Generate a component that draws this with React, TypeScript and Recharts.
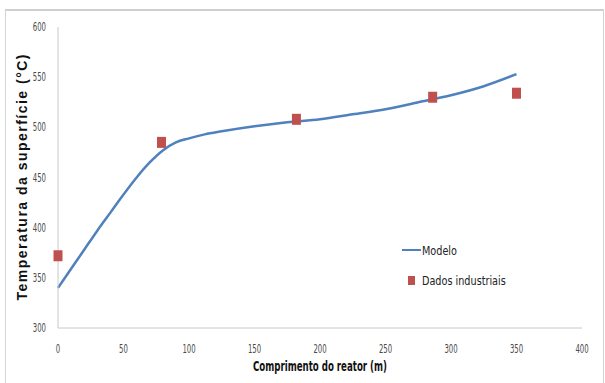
import {
  ComposedChart,
  Line,
  Scatter,
  XAxis,
  YAxis,
  Legend,
  Label,
} from 'recharts'

// Curva do modelo: comprimento (m) x temperatura (°C)
const modeloX = [0, 10, 20, 30, 40, 50, 60, 70, 80, 90, 100, 112, 125, 150, 175, 200, 225, 250, 275, 300, 325, 350]
const modeloY = [340, 359, 378, 397, 415, 433, 450, 465, 477, 485, 489, 493, 496, 501, 505, 508, 513, 518, 525, 532, 541, 553]

// Medições industriais
const dadosX = [0, 79, 182, 286, 350]
const dadosY = [372, 485, 508, 530, 534]

const xTicks = [0, 50, 100, 150, 200, 250, 300, 350, 400]
const yTicks = [300, 350, 400, 450, 500, 550, 600]

const modeloData = modeloX.map((x, i) => ({ x, y: modeloY[i] }))
const dadosData = dadosX.map((x, i) => ({ x, y: dadosY[i] }))

const BLUE = '#4F81BD'
const RED = '#C0504D'
const NARROW = '"DejaVu Sans Condensed", "Liberation Sans", sans-serif'

// rótulos estreitos, no estilo do Calibri
function NarrowTick(props: any) {
  const { x, y, payload, textAnchor } = props
  const s = String(payload.value)
  return (
    <text
      x={x}
      y={y}
      textAnchor={textAnchor}
      dominantBaseline="central"
      fontSize={12}
      fill="#4a4a4a"
      fontFamily={NARROW}
      textLength={s.length * 4.4}
      lengthAdjust="spacingAndGlyphs"
    >
      {s}
    </text>
  )
}

function SquareMarker(props: any) {
  const { cx, cy } = props
  return <rect x={cx - 4.5} y={cy - 5.5} width={9} height={11} fill={RED} />
}

const squeeze = { display: 'inline-block', transform: 'scaleX(0.86)', transformOrigin: 'left center', whiteSpace: 'nowrap' as const }

function LegendBox() {
  return (
    <div style={{ fontFamily: NARROW, fontSize: 12.5, color: '#222', textAlign: 'left' }}>
      <div style={{ display: 'flex', alignItems: 'center', height: 18 }}>
        <span style={{ display: 'inline-block', width: 19, height: 2.5, background: BLUE, marginRight: 1 }} />
        <span style={squeeze}>Modelo</span>
      </div>
      <div style={{ display: 'flex', alignItems: 'center', height: 18, marginTop: 12 }}>
        <span style={{ display: 'inline-block', width: 7, height: 9, background: RED, marginLeft: 6, marginRight: 7 }} />
        <span style={squeeze}>Dados industriais</span>
      </div>
    </div>
  )
}

export default function App() {
  return (
    <div style={{ position: 'absolute', left: 0, top: 0, width: 605, height: 383, background: '#fff' }}>
      <div
        style={{
          position: 'absolute',
          left: 5,
          top: 9,
          width: 597,
          height: 380,
          border: '1px solid #d4d4d4',
          borderTop: '2px solid #cfcfcf',
        }}
      />
      <ComposedChart
        width={605}
        height={383}
        margin={{ top: 27, right: 23, bottom: 25, left: 8 }}
        style={{ position: 'absolute', left: 0, top: 0 }}
      >
        <XAxis
          type="number"
          dataKey="x"
          domain={[0, 400]}
          ticks={xTicks}
          height={30}
          stroke="#c8c8c8"
          tickLine={false}
          tickSize={0}
          tickMargin={0}
          tick={(p: any) => <NarrowTick {...p} y={p.y + 21} />}
        >
          <Label
            content={({ viewBox }: any) => {
              const cx = viewBox.x + viewBox.width / 2
              const cy = viewBox.y + 38
              return (
                <text
                  x={cx}
                  y={cy}
                  textAnchor="middle"
                  dominantBaseline="central"
                  fontFamily={NARROW}
                  fontSize={14}
                  fontWeight="bold"
                  fill="#111"
                  textLength={134}
                  lengthAdjust="spacingAndGlyphs"
                >
                  Comprimento do reator (m)
                </text>
              )
            }}
          />
        </XAxis>
        <YAxis
          type="number"
          dataKey="y"
          domain={[300, 600]}
          ticks={yTicks}
          width={50}
          stroke="#c8c8c8"
          tickLine={false}
          tickSize={0}
          tickMargin={0}
          tick={(p: any) => <NarrowTick {...p} x={p.x - 12} />}
        >
          <Label
            content={({ viewBox }: any) => {
              const cx = viewBox.x + 14
              const cy = viewBox.y + viewBox.height / 2
              return (
                <text
                  x={cx}
                  y={cy}
                  transform={`rotate(-90 ${cx} ${cy})`}
                  textAnchor="middle"
                  dominantBaseline="central"
                  fontFamily='"Liberation Sans", Arial, sans-serif'
                  fontSize={14}
                  fontWeight="bold"
                  fill="#111"
                  textLength={246}
                  lengthAdjust="spacing"
                >
                  Temperatura da superfície (°C)
                </text>
              )
            }}
          />
        </YAxis>
        <Legend
          layout="vertical"
          align="center"
          verticalAlign="middle"
          content={<LegendBox />}
          wrapperStyle={{ position: 'absolute', left: 402, top: 241, width: 140, height: 60 }}
        />
        <Line
          data={modeloData}
          dataKey="y"
          name="Modelo"
          type="monotone"
          stroke={BLUE}
          strokeWidth={2.5}
          dot={false}
          activeDot={false}
          isAnimationActive={false}
        />
        <Scatter
          data={dadosData}
          dataKey="y"
          name="Dados industriais"
          fill={RED}
          shape={<SquareMarker />}
          isAnimationActive={false}
        />
      </ComposedChart>
    </div>
  )
}
